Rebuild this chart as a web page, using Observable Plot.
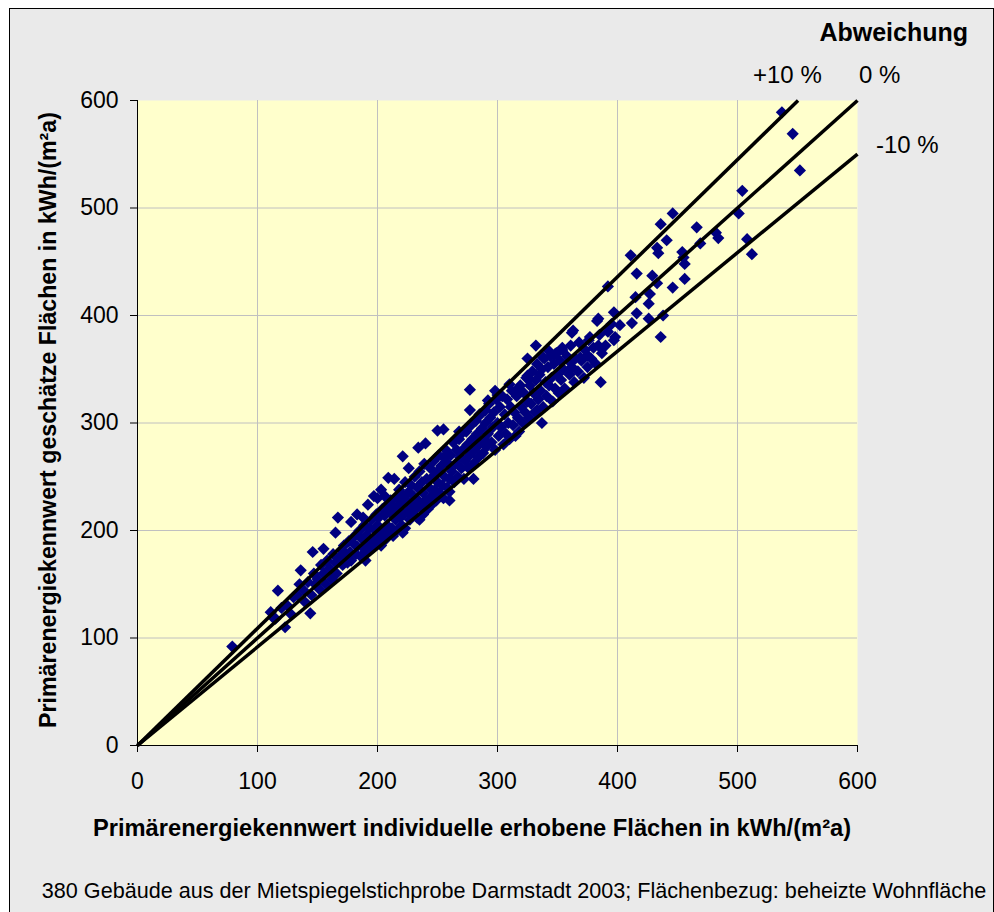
<!DOCTYPE html>
<html><head><meta charset="utf-8">
<script src="https://cdn.jsdelivr.net/npm/d3@7"></script>
<script src="https://cdn.jsdelivr.net/npm/@observablehq/plot@0.6"></script>
<style>
body{margin:0;background:#fff;font-family:"Liberation Sans",Arial,sans-serif;}
#panel{position:absolute;left:9px;top:8px;width:983px;height:903px;background:#EAEAEA;border:1px solid #000;}
#chart{position:absolute;left:0;top:0;}
.lab{position:absolute;font-size:24px;line-height:26px;color:#000;white-space:nowrap;}
.b{font-weight:bold;}
</style></head><body>
<div id="panel"></div>
<div id="chart"></div>
<div class="lab b" style="right:26px;top:18px;font-size:25px;line-height:28px;">Abweichung</div>
<div class="lab" style="left:753px;top:62px;">+10 %</div>
<div class="lab" style="left:859px;top:62px;">0 %</div>
<div class="lab" style="left:876px;top:132px;">-10 %</div>
<div class="lab b" style="left:0;width:944px;text-align:center;top:815px;font-size:23.7px;">Primärenergiekennwert individuelle erhobene Flächen in kWh/(m²a)</div>
<div class="lab b" style="left:48px;top:420px;font-size:23.2px;transform:translate(-50%,-50%) rotate(-90deg);">Primärenergiekennwert geschätze Flächen in kWh/(m²a)</div>
<div class="lab" style="left:0;width:1028px;text-align:center;top:879px;font-size:21.6px;line-height:24px;">380 Gebäude aus der Mietspiegelstichprobe Darmstadt 2003; Flächenbezug: beheizte Wohnfläche</div>
<script>
// individuell erhobene Fläche (x) / geschätzte Fläche (y), kWh/(m²a)
const individuell = [
79,111,113,117,123,144,136,146,155,165,167,209,221,234,240,250,255,277,277,292,298,317,333,326,325,325,332,337,338,354,361,362,363,369,375,376,383,384,384,386,
392,397,402,397,412,411,416,415,416,426,427,426,429,433,433,434,436,436,438,441,446,446,454,455,456,456,466,469,482,484,501,504,508,512,537,546,552,
183,178,192,197,203,214,226,221,190,235,260,280,200,206,188,300,310,342,348,268,285,
115,120,125,128,130,133,135,138,140,142,145,147,148,150,152,153,155,157,158,160,162,163,165,166,168,170,
171,172,173,175,176,177,178,180,181,182,183,185,186,187,188,189,190,191,192,193,194,195,196,197,198,199,200,200,201,202,203,204,205,
206,207,208,208,209,210,211,212,212,213,214,215,216,216,217,218,219,220,220,221,222,223,223,224,225,226,227,228,228,229,230,231,232,233,233,234,235,236,237,238,238,239,240,241,242,243,244,245,246,246,247,248,249,250,250,251,252,253,254,255,255,256,257,258,259,260,260,
261,262,263,264,265,266,267,268,269,270,270,271,272,273,274,275,276,277,278,279,280,281,282,283,284,285,286,287,288,289,290,290,291,292,293,294,295,296,297,298,299,300,301,302,303,304,305,306,307,308,309,310,311,312,313,314,315,316,317,318,319,320,
321,322,323,324,325,326,327,328,329,330,331,332,333,334,335,336,337,338,339,340,341,342,343,344,345,346,347,348,349,350,351,352,353,354,355,356,358,360,361,362,364,365,367,368,370,372,373,375,377,378,380,382,385,387,390,392,395,398
];
const geschaetzt = [
92,124,119,144,110,123,163,180,183,198,212,249,269,277,281,293,294,331,312,321,330,332,312,341,344,360,372,300,361,370,356,384,386,361,363,377,395,397,372,338,
427,403,391,377,393,456,439,417,402,411,420,397,437,430,463,458,485,380,400,470,495,426,459,454,448,434,482,467,477,472,495,516,471,457,589,569,535,
215,208,224,232,238,248,258,198,172,210,228,248,230,232,212,326,336,368,364,292,308,
118,128,130,122,138,140,150,145,133,152,140,160,150,155,145,168,160,150,172,165,155,178,170,160,175,182,
168,186,176,170,190,180,172,188,195,178,185,200,176,192,184,205,180,196,188,202,182,210,192,185,200,215,190,205,212,196,186,220,200,
214,192,224,205,198,218,228,202,215,195,222,210,230,200,220,238,212,205,225,232,215,245,202,228,218,236,210,242,225,215,232,250,220,212,240,228,255,222,245,215,235,262,228,248,220,240,258,232,225,250,265,238,228,255,245,270,235,260,242,230,268,250,275,240,262,248,236,
270,255,282,245,262,275,250,285,268,258,290,275,248,265,292,280,258,270,298,285,262,275,302,290,268,280,308,295,272,285,312,300,278,290,318,305,282,296,310,275,322,300,288,315,296,325,280,308,290,322,300,285,315,330,298,310,288,325,305,292,335,315,
300,328,310,342,320,305,335,318,348,328,310,340,355,322,345,330,350,315,360,338,325,352,335,362,342,320,355,332,365,345,328,358,340,368,350,332,362,345,372,352,338,360,348,375,358,342,368,352,380,360,370,355,382,365,372,385,392,380
];
const xTicks = [0, 100, 200, 300, 400, 500, 600];
const yTicks = [0, 100, 200, 300, 400, 500, 600];
const abweichung = [
  {label: "+10 %", faktor: 1.09},
  {label: "0 %", faktor: 1},
  {label: "-10 %", faktor: 0.917}
];

const punkte = individuell.map((x, i) => ({x, y: geschaetzt[i]}));

const chart = Plot.plot({
  width: 994,
  height: 912,
  marginLeft: 137,
  marginRight: 137,
  marginTop: 100,
  marginBottom: 167,
  style: {background: "transparent", fontFamily: "'Liberation Sans', Arial, sans-serif", fontSize: "23px", color: "#000"},
  x: {domain: [0, 600]},
  y: {domain: [0, 600]},
  marks: [
    Plot.frame({fill: "#FFFFCC", stroke: "none"}),
    Plot.gridX(xTicks.slice(1, -1), {stroke: "#C0C0C0", strokeOpacity: 1, strokeWidth: 1}),
    Plot.gridY(yTicks.slice(1, -1), {stroke: "#C0C0C0", strokeOpacity: 1, strokeWidth: 1}),
    Plot.ruleX([0], {stroke: "#000", strokeWidth: 1}),
    Plot.ruleY([0], {stroke: "#000", strokeWidth: 1}),
    Plot.axisX({ticks: xTicks, tickSize: 7, tickPadding: 20, label: null, fontSize: 23, stroke: "#000"}),
    Plot.axisY({ticks: yTicks, tickSize: 7, tickPadding: 12, label: null, fontSize: 23, stroke: "#000"}),
    Plot.dot(punkte, {x: "x", y: "y", symbol: "diamond2", r: 5.5, fill: "#000080", stroke: "none"}),
    Plot.link(abweichung, {
      x1: () => 0, y1: () => 0,
      x2: d => Math.min(600, 600 / d.faktor),
      y2: d => Math.min(600, 600 * d.faktor),
      stroke: "#000", strokeWidth: 3.5
    })
  ]
});
document.getElementById("chart").appendChild(chart);
</script>
</body></html>
